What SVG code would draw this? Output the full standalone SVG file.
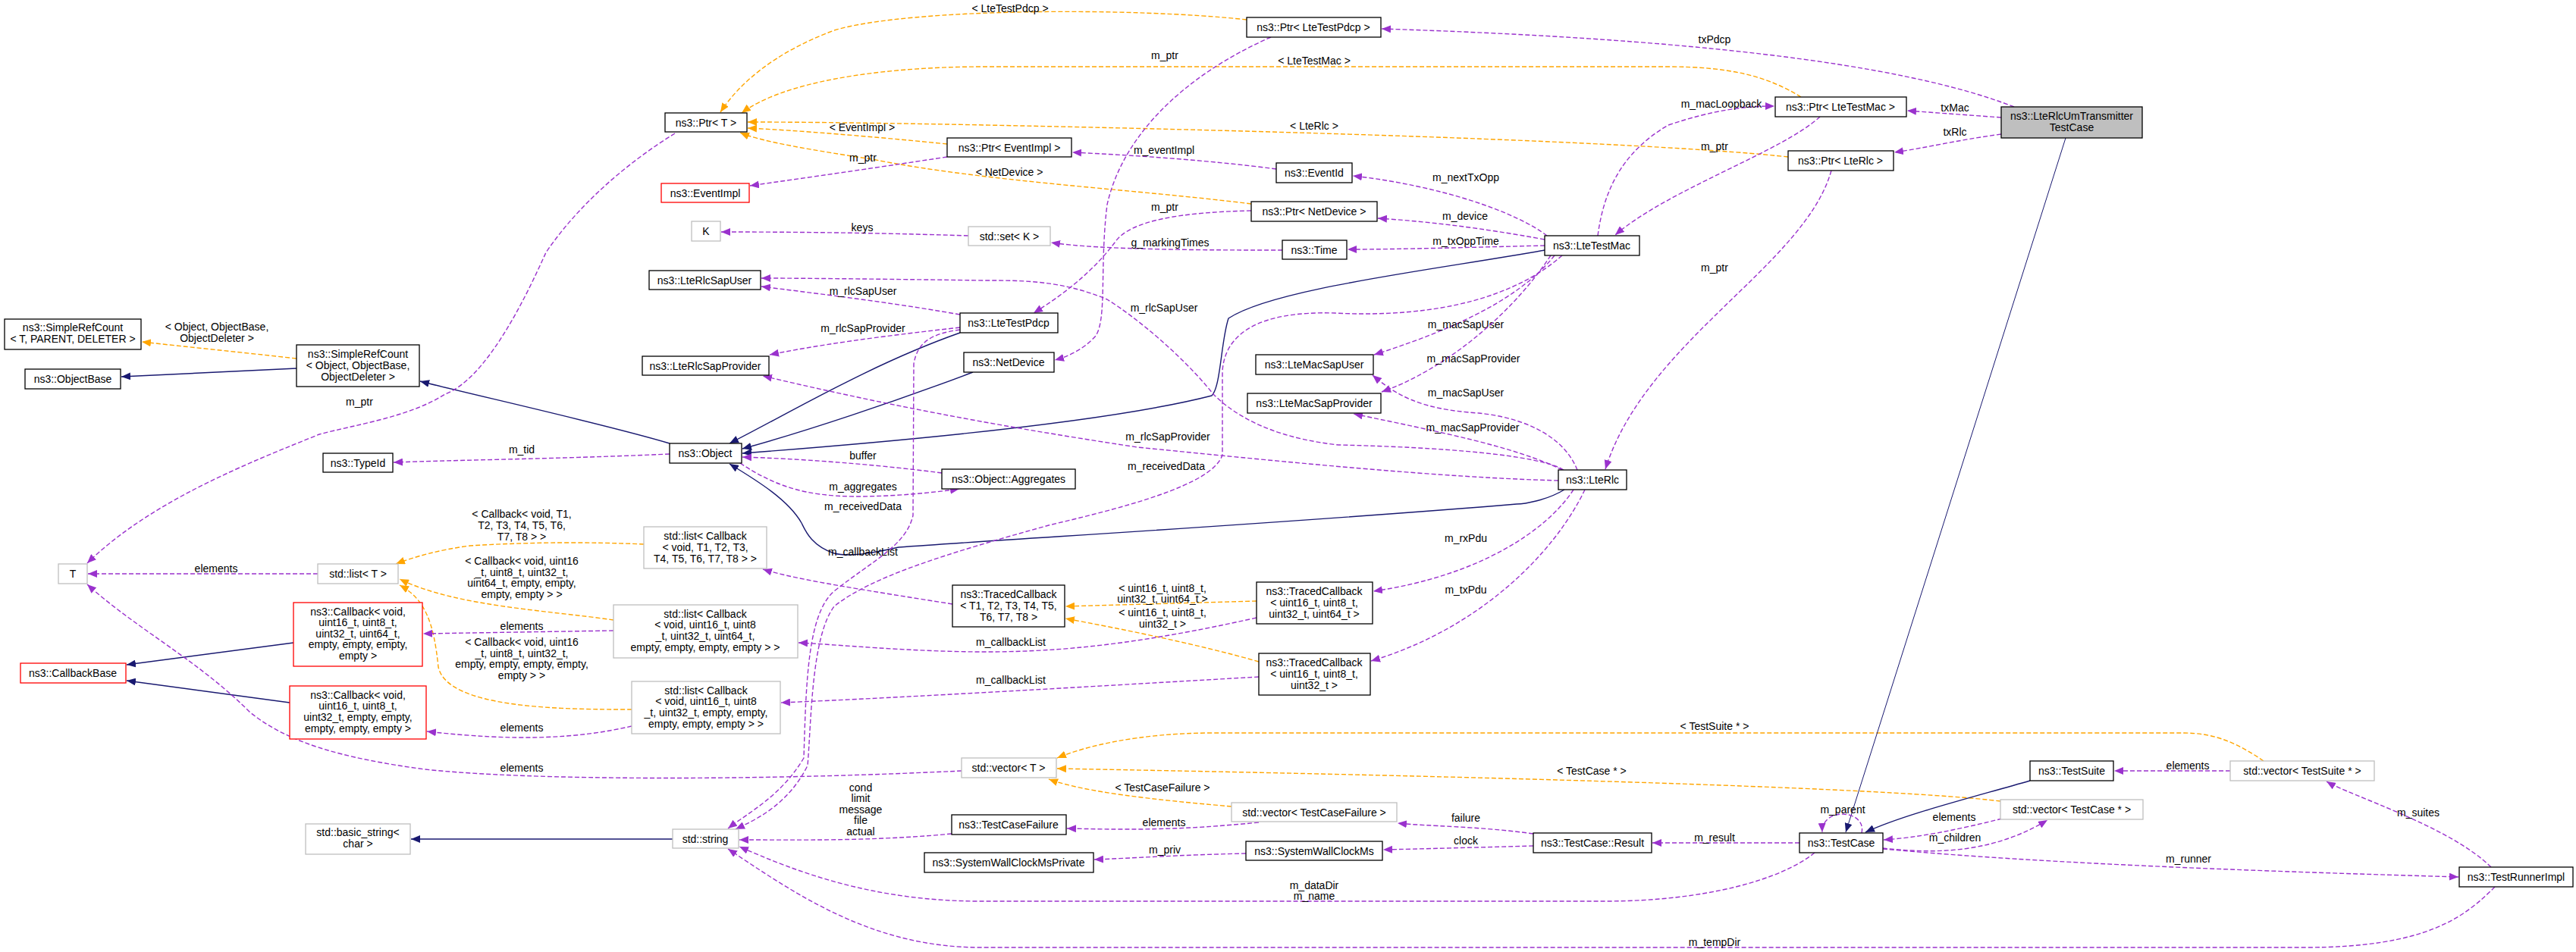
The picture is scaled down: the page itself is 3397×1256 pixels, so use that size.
<svg xmlns="http://www.w3.org/2000/svg" width="3397" height="1256" viewBox="0 0 3397 1256">
<style>
text{font-family:"Liberation Sans",Arial,sans-serif;font-size:14px;fill:#000;text-anchor:middle}
.n rect{fill:#fff;stroke:#000;stroke-width:1.3}
.g rect{fill:#fff;stroke:#bfbfbf;stroke-width:1.3}
.r rect{fill:#fff;stroke:#ff0000;stroke-width:1.3}
.m rect{fill:#bfbfbf;stroke:#000;stroke-width:1.3}
path{fill:none}
.u{stroke:#9a32cd;stroke-width:1.4;stroke-dasharray:6,3;marker-end:url(#au)}
.t{stroke:#ffa500;stroke-width:1.4;stroke-dasharray:6,3;marker-end:url(#at)}
.i{stroke:#191970;stroke-width:1.4;marker-end:url(#ai)}
</style>
<defs>
<marker id="au" markerUnits="userSpaceOnUse" markerWidth="12" markerHeight="10" refX="12" refY="5" orient="auto"><path d="M0,0L12,5L0,10z" style="fill:#9a32cd;stroke:none"/></marker>
<marker id="at" markerUnits="userSpaceOnUse" markerWidth="12" markerHeight="10" refX="12" refY="5" orient="auto"><path d="M0,0L12,5L0,10z" style="fill:#ffa500;stroke:none"/></marker>
<marker id="ai" markerUnits="userSpaceOnUse" markerWidth="12" markerHeight="10" refX="12" refY="5" orient="auto"><path d="M0,0L12,5L0,10z" style="fill:#191970;stroke:none"/></marker>
</defs>
<rect width="3397" height="1256" fill="#fff"/>
<g id="edges">
<path class="t" d="M1644,26 C1500,10 1200,10 1100,40 C1020,70 975,110 950,148"/><text x="1332" y="16">&lt; LteTestPdcp &gt;</text>
<path class="t" d="M2375,128 C2330,100 2280,88 2200,88 L1300,88 C1150,88 1030,110 978,149"/><text x="1733" y="85">&lt; LteTestMac &gt;</text>
<path class="t" d="M1249,190 C1150,180 1050,172 986,169"/><text x="1137" y="173">&lt; EventImpl &gt;</text>
<path class="t" d="M2358,207 C2200,190 1800,175 1300,165 C1150,162 1050,161 986,161"/><text x="1733" y="171">&lt; LteRlc &gt;</text>
<path class="t" d="M1650,269 C1500,250 1300,240 1150,210 C1050,195 1000,185 976,175"/><text x="1331" y="232">&lt; NetDevice &gt;</text>
<path class="t" d="M391,473 C320,465 250,458 187,451"/><text x="286" y="436">&lt; Object, ObjectBase,</text><text x="286" y="451">ObjectDeleter &gt;</text>
<path class="t" d="M849,718 C780,715 700,715 620,720 C580,725 545,735 522,744"/><text x="688" y="683">&lt; Callback&lt; void, T1,</text><text x="688" y="698">T2, T3, T4, T5, T6,</text><text x="688" y="713">T7, T8 &gt; &gt;</text>
<path class="t" d="M809,818 C720,805 600,800 527,764"/><text x="688" y="745">&lt; Callback&lt; void, uint16</text><text x="688" y="760">_t, uint8_t, uint32_t,</text><text x="688" y="774">uint64_t, empty, empty,</text><text x="688" y="789">empty, empty &gt; &gt;</text>
<path class="t" d="M833,936 C740,936 590,935 578,880 C572,820 560,790 527,772"/><text x="688" y="852">&lt; Callback&lt; void, uint16</text><text x="688" y="867">_t, uint8_t, uint32_t,</text><text x="688" y="881">empty, empty, empty, empty,</text><text x="688" y="896">empty &gt; &gt;</text>
<path class="t" d="M1657,793 L1405,800"/><text x="1533" y="781">&lt; uint16_t, uint8_t,</text><text x="1533" y="795">uint32_t, uint64_t &gt;</text>
<path class="t" d="M1660,873 C1580,850 1480,830 1405,816"/><text x="1533" y="813">&lt; uint16_t, uint8_t,</text><text x="1533" y="828">uint32_t &gt;</text>
<path class="t" d="M2985,1004 C2950,980 2920,967 2880,967 L1600,967 C1500,967 1430,985 1394,1000"/><text x="2261" y="963">&lt; TestSuite * &gt;</text>
<path class="t" d="M2638,1057 C2500,1040 2000,1025 1394,1014"/><text x="2099" y="1022">&lt; TestCase * &gt;</text>
<path class="t" d="M1624,1064 C1520,1055 1430,1045 1383,1028"/><text x="1533" y="1044">&lt; TestCaseFailure &gt;</text>
<path class="i" style="stroke-width:1" d="M2724,182 L2434,1098"/>
<path class="i" d="M1266,439 C1150,480 1050,540 962,585"/>
<path class="i" d="M1283,491 C1180,530 1060,570 979,592"/>
<path class="i" d="M2037,330 C1900,355 1680,380 1620,420 C1610,450 1610,510 1598,522 C1450,560 1150,585 979,598"/>
<path class="i" d="M2063,646 C2040,660 2010,665 2000,665 C1700,690 1350,710 1185,722 C1150,730 1120,735 1100,730 C1070,720 1062,700 1057,690 C1040,660 1000,635 962,612"/>
<path class="i" d="M391,486 L160,497"/>
<path class="i" d="M883,585 C800,560 620,520 554,503"/>
<path class="i" d="M387,848 L167,877"/>
<path class="i" d="M382,927 L167,898"/>
<path class="i" d="M887,1107 L542,1107"/>
<path class="i" d="M2677,1030 C2590,1055 2510,1075 2460,1098"/>
<path class="u" d="M890,176 C830,213 765,267 720,333 C690,400 640,500 587,520 C540,550 470,560 421,573 C330,610 200,660 115,743"/><text x="474" y="535">m_ptr</text>
<path class="u" d="M1249,207 C1150,222 1060,235 989,245"/><text x="1138" y="213">m_ptr</text>
<path class="u" d="M1683,223 C1600,212 1500,205 1414,201"/><text x="1535" y="203">m_eventImpl</text>
<path class="u" d="M2040,311 C2000,280 1900,245 1784,232"/><text x="1933" y="239">m_nextTxOpp</text>
<path class="u" d="M2037,316 C1950,300 1880,292 1817,288"/><text x="1932" y="290">m_device</text>
<path class="u" d="M2037,324 C1950,326 1850,329 1777,329"/><text x="1933" y="323">m_txOppTime</text>
<path class="u" d="M1691,330 C1600,330 1450,330 1386,320"/><text x="1543" y="325">g_markingTimes</text>
<path class="u" d="M1277,311 C1150,307 1050,306 951,306"/><text x="1137" y="305">keys</text>
<path class="u" d="M1676,49 C1560,100 1480,180 1460,270 C1450,350 1460,420 1445,443 C1430,460 1410,470 1391,475"/><text x="1536" y="78">m_ptr</text>
<path class="u" d="M1650,278 C1560,280 1490,290 1470,320 C1440,360 1400,390 1363,413"/><text x="1536" y="278">m_ptr</text>
<path class="u" d="M1266,415 C1180,400 1100,390 1004,378"/><text x="1138" y="389">m_rlcSapUser</text>
<path class="u" d="M2062,620 C2030,600 1900,590 1765,587 C1700,580 1640,560 1600,520 C1560,470 1500,420 1460,395 C1400,370 1350,370 1300,370 C1150,368 1050,367 1004,367"/><text x="1535" y="411">m_rlcSapUser</text>
<path class="u" d="M1266,432 C1150,445 1080,455 1015,468"/><text x="1138" y="438">m_rlcSapProvider</text>
<path class="u" d="M2055,634 C1900,630 1700,610 1500,590 C1300,560 1150,530 1006,496"/><text x="1540" y="581">m_rlcSapProvider</text>
<path class="u" d="M2050,337 C2000,400 1900,440 1812,468"/><text x="1933" y="433">m_macSapUser</text>
<path class="u" d="M2045,337 C1990,420 1900,490 1822,517"/><text x="1943" y="478">m_macSapProvider</text>
<path class="u" d="M2080,620 C2060,570 2000,550 1950,545 C1870,540 1840,520 1810,495"/><text x="1933" y="523">m_macSapUser</text>
<path class="u" d="M2060,620 C2000,590 1900,570 1785,546"/><text x="1942" y="569">m_macSapProvider</text>
<path class="u" d="M2107,311 C2115,250 2140,200 2200,165 C2260,145 2300,140 2340,140"/><text x="2270" y="142">m_macLoopback</text>
<path class="u" d="M2400,154 C2350,200 2200,250 2130,310"/><text x="2261" y="198">m_ptr</text>
<path class="u" d="M2415,225 C2380,350 2170,450 2117,619"/><text x="2261" y="358">m_ptr</text>
<path class="u" d="M2656,141 C2500,80 2200,50 1822,38"/><text x="2261" y="57">txPdcp</text>
<path class="u" d="M2639,155 L2515,146"/><text x="2578" y="147">txMac</text>
<path class="u" d="M2639,177 C2580,185 2540,195 2498,201"/><text x="2578" y="179">txRlc</text>
<path class="u" d="M883,599 C750,605 600,607 519,610"/><text x="688" y="598">m_tid</text>
<path class="u" d="M1242,624 C1150,612 1050,605 979,603"/><text x="1138" y="606">buffer</text>
<path class="u" d="M976,611 C1020,640 1060,655 1130,655 C1180,655 1230,650 1265,645"/><text x="1138" y="647">m_aggregates</text>
<path class="u" d="M1266,435 C1230,440 1210,450 1205,480 L1204,680 C1195,720 1150,740 1100,780 C1065,810 1063,900 1060,1000 C1030,1050 990,1070 960,1093"/><text x="1138" y="673">m_receivedData</text>
<path class="u" d="M2060,337 C2000,390 1900,420 1760,413 C1660,410 1615,440 1612,490 L1612,600 C1600,640 1480,670 1383,693 C1250,730 1150,760 1100,800 C1070,840 1070,950 1065,1010 C1040,1060 1000,1080 970,1094"/><text x="1538" y="620">m_receivedData</text>
<path class="u" d="M1256,797 C1150,780 1050,765 1006,751"/><text x="1138" y="733">m_callbackList</text>
<path class="u" d="M1657,815 C1500,850 1400,860 1300,860 C1200,860 1100,850 1053,848"/><text x="1333" y="852">m_callbackList</text>
<path class="u" d="M1660,893 C1450,905 1200,920 1030,927"/><text x="1333" y="902">m_callbackList</text>
<path class="u" d="M2075,646 C2040,700 1950,760 1811,780"/><text x="1933" y="715">m_rxPdu</text>
<path class="u" d="M2090,646 C2050,730 1950,830 1808,872"/><text x="1933" y="783">m_txPdu</text>
<path class="u" d="M419,757 L116,757"/><text x="285" y="755">elements</text>
<path class="u" d="M809,832 L558,836"/><text x="688" y="831">elements</text>
<path class="u" d="M833,958 C760,975 680,978 563,965"/><text x="688" y="965">elements</text>
<path class="u" d="M1268,1017 C1000,1030 700,1030 560,1015 C450,1000 380,980 330,940 C260,870 180,830 115,771"/><text x="688" y="1018">elements</text>
<path class="u" d="M1660,1085 C1560,1095 1500,1095 1407,1093"/><text x="1535" y="1090">elements</text>
<path class="u" d="M1255,1100 C1150,1110 1050,1108 975,1108"/><text x="1135" y="1044">cond</text><text x="1135" y="1058">limit</text><text x="1135" y="1073">message</text><text x="1135" y="1087">file</text><text x="1135" y="1102">actual</text>
<path class="u" d="M2022,1100 C1950,1090 1880,1090 1843,1086"/><text x="1933" y="1084">failure</text>
<path class="u" d="M2022,1116 C1950,1118 1870,1120 1824,1121"/><text x="1933" y="1114">clock</text>
<path class="u" d="M1643,1126 C1550,1128 1500,1132 1443,1134"/><text x="1536" y="1126">m_priv</text>
<path class="u" d="M2373,1112 L2179,1112"/><text x="2261" y="1110">m_result</text>
<path class="u" d="M2393,1125 C2350,1160 2250,1189 2116,1189 L1293,1189 C1150,1189 1050,1150 975,1117"/><text x="1733" y="1173">m_dataDir</text><text x="1733" y="1187">m_name</text>
<path class="u" d="M3290,1170 C3250,1210 3200,1250 3040,1250 L1293,1250 C1150,1250 1050,1180 960,1120"/><text x="2261" y="1248">m_tempDir</text>
<path class="u" d="M2455,1099 C2462,1068 2402,1064 2403,1098"/><text x="2430" y="1073">m_parent</text>
<path class="u" d="M2640,1080 C2580,1095 2530,1105 2484,1108"/><text x="2577" y="1083">elements</text>
<path class="u" d="M2483,1119 C2540,1125 2620,1130 2700,1082"/><text x="2578" y="1110">m_children</text>
<path class="u" d="M2941,1017 L2788,1017"/><text x="2885" y="1015">elements</text>
<path class="u" d="M2483,1120 C2700,1140 3000,1150 3242,1157"/><text x="2886" y="1138">m_runner</text>
<path class="u" d="M3285,1144 C3230,1090 3100,1050 3068,1031"/><text x="3189" y="1077">m_suites</text>
</g>
<g id="n_ptrT" class="n"><rect x="877" y="149" width="108" height="25"/><text x="931" y="167">ns3::Ptr&lt; T &gt;</text></g>
<g id="n_eventImpl" class="r"><rect x="872" y="242" width="116" height="25"/><text x="930" y="260">ns3::EventImpl</text></g>
<g id="n_K" class="g"><rect x="912" y="292" width="38" height="26"/><text x="931" y="310">K</text></g>
<g id="n_rlcSapUser" class="n"><rect x="856" y="357" width="147" height="25"/><text x="929" y="375">ns3::LteRlcSapUser</text></g>
<g id="n_ptrPdcp" class="n"><rect x="1644" y="23" width="177" height="26"/><text x="1732" y="41">ns3::Ptr&lt; LteTestPdcp &gt;</text></g>
<g id="n_ptrEventImpl" class="n"><rect x="1249" y="182" width="164" height="25"/><text x="1331" y="200">ns3::Ptr&lt; EventImpl &gt;</text></g>
<g id="n_eventId" class="n"><rect x="1683" y="215" width="100" height="26"/><text x="1733" y="233">ns3::EventId</text></g>
<g id="n_ptrNetDevice" class="n"><rect x="1650" y="266" width="166" height="26"/><text x="1733" y="284">ns3::Ptr&lt; NetDevice &gt;</text></g>
<g id="n_setK" class="g"><rect x="1277" y="299" width="108" height="25"/><text x="1331" y="317">std::set&lt; K &gt;</text></g>
<g id="n_time" class="n"><rect x="1691" y="317" width="85" height="25"/><text x="1733" y="335">ns3::Time</text></g>
<g id="n_pdcp" class="n"><rect x="1266" y="413" width="129" height="26"/><text x="1330" y="431">ns3::LteTestPdcp</text></g>
<g id="n_ptrMac" class="n"><rect x="2341" y="128" width="173" height="26"/><text x="2427" y="146">ns3::Ptr&lt; LteTestMac &gt;</text></g>
<g id="n_main" class="m"><rect x="2639" y="141" width="186" height="41"/><text x="2732" y="158">ns3::LteRlcUmTransmitter</text><text x="2732" y="173">TestCase</text></g>
<g id="n_ptrRlc" class="n"><rect x="2358" y="199" width="139" height="26"/><text x="2427" y="217">ns3::Ptr&lt; LteRlc &gt;</text></g>
<g id="n_mac" class="n"><rect x="2037" y="311" width="125" height="26"/><text x="2099" y="329">ns3::LteTestMac</text></g>
<g id="n_srcT" class="n"><rect x="6" y="421" width="180" height="40"/><text x="96" y="437">ns3::SimpleRefCount</text><text x="96" y="452">&lt; T, PARENT, DELETER &gt;</text></g>
<g id="n_objBase" class="n"><rect x="33" y="487" width="126" height="26"/><text x="96" y="505">ns3::ObjectBase</text></g>
<g id="n_srcObj" class="n"><rect x="391" y="455" width="162" height="55"/><text x="472" y="472">ns3::SimpleRefCount</text><text x="472" y="487">&lt; Object, ObjectBase,</text><text x="472" y="502">ObjectDeleter &gt;</text></g>
<g id="n_typeId" class="n"><rect x="426" y="598" width="92" height="25"/><text x="472" y="616">ns3::TypeId</text></g>
<g id="n_object" class="n"><rect x="883" y="585" width="95" height="26"/><text x="930" y="603">ns3::Object</text></g>
<g id="n_rlcSapProv" class="n"><rect x="847" y="470" width="167" height="25"/><text x="930" y="488">ns3::LteRlcSapProvider</text></g>
<g id="n_listCbT" class="g"><rect x="849" y="695" width="162" height="55"/><text x="930" y="712">std::list&lt; Callback</text><text x="930" y="727">&lt; void, T1, T2, T3,</text><text x="930" y="742">T4, T5, T6, T7, T8 &gt; &gt;</text></g>
<g id="n_T" class="g"><rect x="77" y="744" width="38" height="26"/><text x="96" y="762">T</text></g>
<g id="n_listT" class="g"><rect x="419" y="744" width="106" height="26"/><text x="472" y="762">std::list&lt; T &gt;</text></g>
<g id="n_cb64" class="r"><rect x="387" y="795" width="170" height="84"/><text x="472" y="812">ns3::Callback&lt; void,</text><text x="472" y="826">uint16_t, uint8_t,</text><text x="472" y="841">uint32_t, uint64_t,</text><text x="472" y="855">empty, empty, empty,</text><text x="472" y="870">empty &gt;</text></g>
<g id="n_listCb64" class="g"><rect x="809" y="798" width="243" height="70"/><text x="930" y="815">std::list&lt; Callback</text><text x="930" y="829">&lt; void, uint16_t, uint8</text><text x="930" y="844">_t, uint32_t, uint64_t,</text><text x="930" y="859">empty, empty, empty, empty &gt; &gt;</text></g>
<g id="n_netDev" class="n"><rect x="1271" y="465" width="119" height="26"/><text x="1330" y="483">ns3::NetDevice</text></g>
<g id="n_macSapUser" class="n"><rect x="1656" y="468" width="155" height="26"/><text x="1733" y="486">ns3::LteMacSapUser</text></g>
<g id="n_macSapProv" class="n"><rect x="1645" y="519" width="176" height="26"/><text x="1733" y="537">ns3::LteMacSapProvider</text></g>
<g id="n_aggr" class="n"><rect x="1242" y="619" width="176" height="26"/><text x="1330" y="637">ns3::Object::Aggregates</text></g>
<g id="n_tcbT" class="n"><rect x="1256" y="772" width="148" height="55"/><text x="1330" y="789">ns3::TracedCallback</text><text x="1330" y="804">&lt; T1, T2, T3, T4, T5,</text><text x="1330" y="819">T6, T7, T8 &gt;</text></g>
<g id="n_tcb64" class="n"><rect x="1657" y="768" width="153" height="55"/><text x="1733" y="785">ns3::TracedCallback</text><text x="1733" y="800">&lt; uint16_t, uint8_t,</text><text x="1733" y="815">uint32_t, uint64_t &gt;</text></g>
<g id="n_rlc" class="n"><rect x="2055" y="620" width="90" height="26"/><text x="2100" y="638">ns3::LteRlc</text></g>
<g id="n_cbBase" class="r"><rect x="27" y="875" width="139" height="26"/><text x="96" y="893">ns3::CallbackBase</text></g>
<g id="n_cb32" class="r"><rect x="382" y="905" width="180" height="70"/><text x="472" y="922">ns3::Callback&lt; void,</text><text x="472" y="936">uint16_t, uint8_t,</text><text x="472" y="951">uint32_t, empty, empty,</text><text x="472" y="966">empty, empty, empty &gt;</text></g>
<g id="n_listCb32" class="g"><rect x="833" y="899" width="196" height="69"/><text x="931" y="916">std::list&lt; Callback</text><text x="931" y="930">&lt; void, uint16_t, uint8</text><text x="931" y="945">_t, uint32_t, empty, empty,</text><text x="931" y="960">empty, empty, empty &gt; &gt;</text></g>
<g id="n_basicStr" class="g"><rect x="403" y="1087" width="138" height="40"/><text x="472" y="1103">std::basic_string&lt;</text><text x="472" y="1118">char &gt;</text></g>
<g id="n_string" class="g"><rect x="887" y="1094" width="87" height="25"/><text x="930" y="1112">std::string</text></g>
<g id="n_tcb32" class="n"><rect x="1660" y="862" width="147" height="55"/><text x="1733" y="879">ns3::TracedCallback</text><text x="1733" y="894">&lt; uint16_t, uint8_t,</text><text x="1733" y="909">uint32_t &gt;</text></g>
<g id="n_vecT" class="g"><rect x="1268" y="1000" width="125" height="26"/><text x="1330" y="1018">std::vector&lt; T &gt;</text></g>
<g id="n_vecTCF" class="g"><rect x="1624" y="1059" width="218" height="25"/><text x="1733" y="1077">std::vector&lt; TestCaseFailure &gt;</text></g>
<g id="n_tcf" class="n"><rect x="1255" y="1075" width="151" height="26"/><text x="1330" y="1093">ns3::TestCaseFailure</text></g>
<g id="n_swcm" class="n"><rect x="1643" y="1110" width="180" height="25"/><text x="1733" y="1128">ns3::SystemWallClockMs</text></g>
<g id="n_swcmp" class="n"><rect x="1219" y="1125" width="223" height="26"/><text x="1330" y="1143">ns3::SystemWallClockMsPrivate</text></g>
<g id="n_testSuite" class="n"><rect x="2677" y="1004" width="110" height="26"/><text x="2732" y="1022">ns3::TestSuite</text></g>
<g id="n_vecTS" class="g"><rect x="2941" y="1004" width="190" height="26"/><text x="3036" y="1022">std::vector&lt; TestSuite * &gt;</text></g>
<g id="n_vecTC" class="g"><rect x="2638" y="1055" width="188" height="26"/><text x="2732" y="1073">std::vector&lt; TestCase * &gt;</text></g>
<g id="n_result" class="n"><rect x="2022" y="1099" width="156" height="26"/><text x="2100" y="1117">ns3::TestCase::Result</text></g>
<g id="n_testCase" class="n"><rect x="2373" y="1099" width="110" height="26"/><text x="2428" y="1117">ns3::TestCase</text></g>
<g id="n_runner" class="n"><rect x="3243" y="1144" width="150" height="26"/><text x="3318" y="1162">ns3::TestRunnerImpl</text></g>
</svg>
